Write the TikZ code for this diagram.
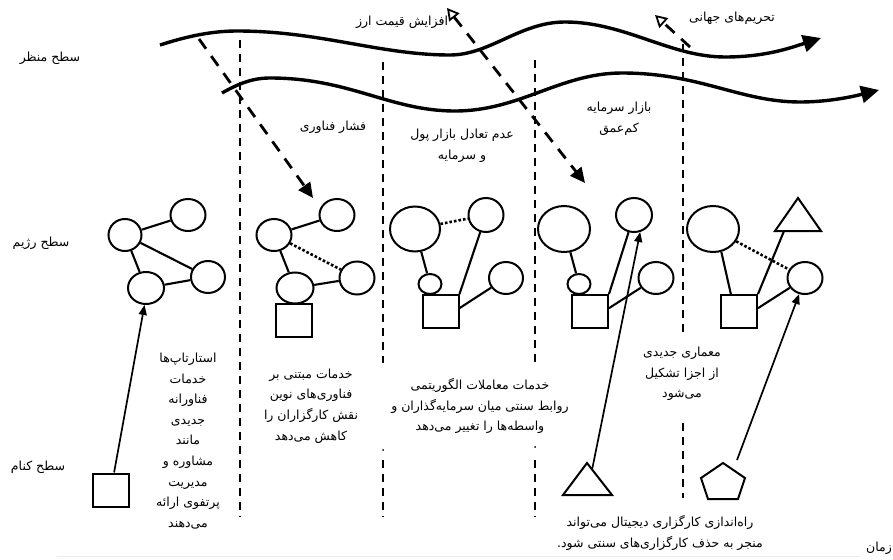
\documentclass[tikz,border=0pt]{standalone}
\usepackage{fontspec}
\newfontfamily\fa[Script=Arabic]{DejaVu Sans}
\TeXXeTstate=1
\usetikzlibrary{arrows.meta,shapes.geometric}
\newcommand{\faR}[1]{\beginR#1\endR}
\begin{document}
\begin{tikzpicture}[x=1pt,y=-1pt,
  lbl/.style={font=\fa\fontsize{12.5}{20.6}\selectfont, align=center, inner sep=0pt},
  actor/.style={ellipse, draw, line width=2pt, inner sep=0pt, minimum width=35pt, minimum height=32pt},
  bigactor/.style={actor, minimum width=51pt, minimum height=46pt},
  smallactor/.style={actor, minimum width=23pt, minimum height=20pt},
  box/.style={draw, line width=2pt, minimum width=36pt, minimum height=33pt, inner sep=0pt},
  link/.style={line width=2.1pt},
  weak/.style={line width=2.6pt, dash pattern=on 2.6pt off 2pt},
  divider/.style={line width=1.6pt, dash pattern=on 8pt off 6pt},
  pressure/.style={line width=2.8pt, dash pattern=on 12pt off 9pt},
  wave/.style={line width=3.4pt, -{Triangle[length=18pt,width=17pt]}},
  nichearrow/.style={line width=1.7pt, -{Triangle[length=10pt,width=8pt]}},
  outline/.style={line width=2pt, line join=miter}
]
\useasboundingbox (0,0) rectangle (893,559);

% faint time axis
\draw[black!7, line width=1pt] (57,556) -- (860,556);

% landscape waves
\draw[wave] (160,45) .. controls (185,37) and (210,31) .. (237,31)
  .. controls (320,31) and (380,55) .. (450,55)
  .. controls (490,55) and (520,22) .. (565,22)
  .. controls (625,22) and (670,57) .. (725,57)
  .. controls (765,57) and (790,48) .. (821,38);
\draw[wave] (222,93) .. controls (238,84) and (252,78) .. (270,78)
  .. controls (350,78) and (390,111) .. (455,111)
  .. controls (520,111) and (560,73) .. (622,73)
  .. controls (700,73) and (740,102) .. (800,102)
  .. controls (830,102) and (855,96) .. (879,90);

% dividers
\draw[divider] (240,40) -- (240,517);
\draw[divider] (383,62) -- (383,363);
\draw[divider] (383,460) -- (383,517);
\fill (383,450) circle (1pt);
\draw[divider] (535,60) -- (535,362);
\draw[divider] (535,460) -- (535,517);
\fill (535,447) circle (1pt);
\draw[divider] (683,44) -- (683,333);
\draw[divider] (683,423) -- (683,498);

% landscape pressures
\coordinate (pA1) at (199,39);
\coordinate (pA2) at (313,198);
\draw[pressure, -{Triangle[length=15pt,width=14pt]}] (pA1) -- (pA2);
\coordinate (pB1) at (447,8);
\coordinate (pB2) at (585,183);
\draw[pressure, {Triangle[open,length=12pt,width=13pt,line width=1.8pt]}-{Triangle[length=15pt,width=14pt]}] (pB1) -- (pB2);
\coordinate (pC1) at (690,47);
\coordinate (pC2) at (655,15);
\draw[pressure, -{Triangle[open,length=12pt,width=13pt,line width=1.8pt]}] (pC1) -- (pC2);

% regime group 1
\node[actor, minimum width=33pt] (a1) at (125,235) {};
\node[actor] (a2) at (188,215) {};
\node[actor, minimum width=36pt] (a3) at (146,288) {};
\node[actor, minimum width=34pt] (a4) at (208,277) {};
\draw[link] (a1) -- (a2);
\draw[link] (a1) -- (a3);
\draw[link] (a1) -- (a4);
\draw[link] (a3) -- (a4);
\node[box] (n1) at (111,490) {};
\draw[nichearrow] (n1.80) -- (a3.-95);

% regime group 2
\node[actor] (b1) at (274,235) {};
\node[actor] (b2) at (337,215) {};
\node[actor, minimum width=37pt, minimum height=31pt] (b3) at (295,288) {};
\node[actor, minimum height=33pt] (b4) at (357,278) {};
\node[box] (nb) at (294,320.5) {};
\draw[link] (b1) -- (b2);
\draw[link] (b1) -- (b3);
\draw[link] (b3) -- (b4);
\draw[weak] (b1) -- (b4);

% regime group 3
\node[bigactor, minimum width=50pt, minimum height=45pt] (c1) at (415,229) {};
\node[smallactor] (c2) at (430,284) {};
\node[box] (nc) at (440.5,311.5) {};
\node[actor, minimum height=34pt] (c3) at (486,215) {};
\node[actor, minimum width=34pt] (c4) at (506,278) {};
\draw[link] (c1) -- (c2);
\draw[weak] (c1) -- (c3);
\draw[link] (nc.north east) -- (c3);
\draw[link] (nc.10) -- (c4);

% regime group 4
\node[bigactor, minimum width=52pt] (f1) at (564,229) {};
\node[smallactor] (f2) at (579,284) {};
\node[box] (nf) at (590,311.5) {};
\node[actor, minimum width=36pt, minimum height=34pt] (f3) at (634,215) {};
\node[actor] (f4) at (656,278) {};
\draw[link] (f1) -- (f2);
\draw[link] (nf.north east) -- (f3);
\draw[link] (nf.10) -- (f4);

% regime group 5
\node[bigactor, minimum width=52pt] (g1) at (713,229) {};
\node[box] (ng) at (739,311.5) {};
\node[actor] (g2) at (805,278) {};
\coordinate (t2) at (798,198);
\draw[outline] (t2) -- (821,231) -- (775,231) -- cycle;
\coordinate (t2b) at (784,231);
\draw[link] (g1.-70) -- (ng.115);
\draw[link] (ng.north east) -- (t2b);
\draw[link] (ng.10) -- (g2);
\draw[weak] (g1) -- (g2);

% niche: triangle and pentagon
\coordinate (t1) at (587,463);
\draw[outline] (t1) -- (612,495) -- (563,495) -- cycle;
\coordinate (t1s) at (592,470);
\draw[nichearrow] (t1s) -- (f3.-70);
\coordinate (p1) at (723,463);
\draw[outline] (p1) -- (745,478) -- (738,499) -- (708,499) -- (701,478) -- cycle;
\coordinate (p1s) at (737,460);
\draw[nichearrow] (p1s) -- (g2.-110);

% labels
\node[lbl] (Llandscape) at (50,58) {\faR{سطح منظر}};
\node[lbl] (Lregime) at (41,243) {\faR{سطح رژیم}};
\node[lbl] (Lniche) at (38,467) {\faR{سطح کنام}};
\node[lbl] (Lfx) at (402,22) {\faR{افزایش قیمت ارز}};
\node[lbl] (Lsanc) at (732,18) {\faR{تحریم^^^^200cهای جهانی}};
\node[lbl] (Ltech) at (333,127) {\faR{فشار فناوری}};
\node[lbl] (Limb) at (462,146) {\faR{عدم تعادل بازار پول}\\\faR{و سرمایه}};
\node[lbl] (Lshallow) at (619,119) {\faR{بازار سرمایه}\\\faR{کم^^^^200cعمق}};
\node[lbl] (Lstart) at (188,441) {\faR{استارتاپ^^^^200cها}\\\faR{خدمات}\\\faR{فناورانه}\\\faR{جدیدی}\\\faR{مانند}\\\faR{مشاوره و}\\\faR{مدیریت}\\\faR{پرتفوی ارائه}\\\faR{می^^^^200cدهند}};
\node[lbl] (Lnew) at (311,406) {\faR{خدمات مبتنی بر}\\\faR{فناوری^^^^200cهای نوین}\\\faR{نقش کارگزاران را}\\\faR{کاهش می^^^^200cدهد}};
\node[lbl] (Lalgo) at (480,406) {\faR{خدمات معاملات الگوریتمی}\\\faR{روابط سنتی میان سرمایه^^^^200cگذاران و}\\\faR{واسطه^^^^200cها را تغییر می^^^^200cدهد}};
\node[lbl] (Larch) at (682,374) {\faR{معماری جدیدی}\\\faR{از اجزا تشکیل}\\\faR{می^^^^200cشود}};
\node[lbl] (Ldigital) at (660,533) {\faR{راه^^^^200cاندازی کارگزاری دیجیتال می^^^^200cتواند}\\\faR{منجر به حذف کارگزاری^^^^200cهای سنتی شود.}};
\node[lbl, anchor=east] (Ltime) at (892,548) {\faR{زمان}};
\end{tikzpicture}
\end{document}
